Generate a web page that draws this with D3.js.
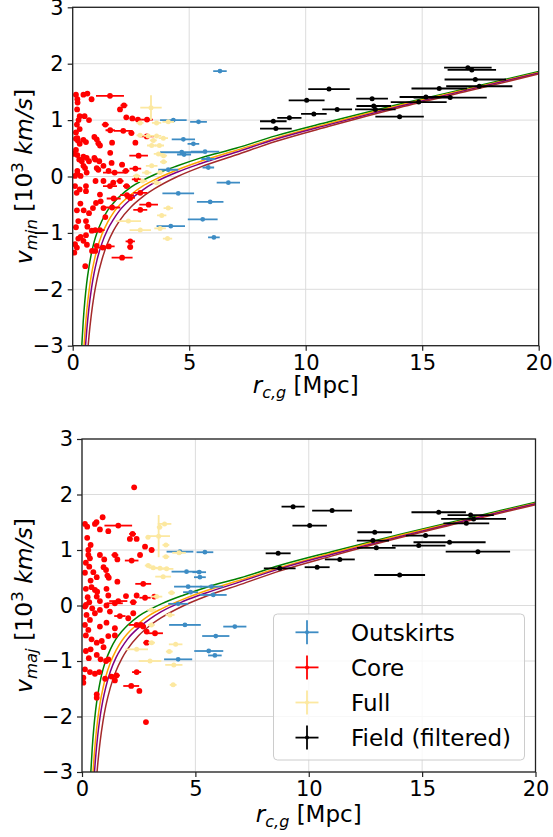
<!DOCTYPE html>
<html>
<head>
<meta charset="utf-8">
<script src="https://cdn.jsdelivr.net/npm/d3@7"></script>
<style>
  body { margin: 0; background: #fff; }
  text { font-family: "DejaVu Sans", sans-serif; fill: #000; }
</style>
</head>
<body>
<svg id="chart" width="553" height="837"></svg>
<script>
// ---- data (r in Mpc, v in 10^3 km/s, xerr, optional yerr) ----
const xTicks = [0, 5, 10, 15, 20];
const yTicks = [-3, -2, -1, 0, 1, 2, 3];
const legendNames = ['Outskirts', 'Core', 'Full', 'Field (filtered)'];
const seriesColors = ['#3d8cc4', '#ff0000', '#fce8a0', '#000000'];
const modelColors = ['green', 'orange', 'purple', 'brown'];

// model curves
const modelGreen = [[0.39,-3.0],[0.45,-2.58],[0.52,-2.21],[0.6,-1.89],[0.7,-1.6],[0.8,-1.37],[0.92,-1.16],[1.05,-0.99],[1.25,-0.79],[1.5,-0.6],[1.75,-0.47],[2.0,-0.36],[2.5,-0.19],[3.0,-0.07],[3.5,0.03],[4.5,0.19],[5.5,0.33],[7,0.5],[8.7,0.72],[11,0.97],[14,1.28],[17,1.57],[20,1.86]];
const modelOrange = [[0.487,-3.0],[0.52,-2.8],[0.6,-2.4],[0.7,-2.03],[0.8,-1.75],[0.92,-1.5],[1.05,-1.28],[1.25,-1.03],[1.5,-0.81],[1.75,-0.64],[2.0,-0.51],[2.5,-0.32],[3.0,-0.17],[3.5,-0.06],[4.5,0.12],[5.5,0.27],[7,0.46],[8.7,0.68],[11,0.94],[14,1.26],[17,1.55],[20,1.845]];
const modelPurple = [[0.55,-3.0],[0.6,-2.74],[0.7,-2.32],[0.8,-2.0],[0.92,-1.71],[1.05,-1.47],[1.25,-1.19],[1.5,-0.94],[1.75,-0.76],[2.0,-0.61],[2.5,-0.4],[3.0,-0.24],[3.5,-0.11],[4.5,0.08],[5.5,0.23],[7,0.43],[8.7,0.66],[11,0.92],[14,1.24],[17,1.54],[20,1.835]];
const modelBrown = [[0.663,-3.0],[0.7,-2.83],[0.8,-2.45],[0.92,-2.1],[1.05,-1.81],[1.25,-1.48],[1.5,-1.18],[1.75,-0.96],[2.0,-0.79],[2.5,-0.54],[3.0,-0.36],[3.5,-0.22],[4.5,0.0],[5.5,0.17],[7,0.38],[8.7,0.62],[11,0.89],[14,1.22],[17,1.52],[20,1.817]];

// top panel: v_min
const outskirtsMin = [[6.32,1.87,0.29],[4.32,1.00,0.57],[5.40,0.97,0.36],[4.75,0.66,0.50],[5.18,0.58,0.25],[4.68,0.43,0.93],[4.78,0.39,0.3],[5.68,0.44,0.61],[5.82,0.31,0.3],[5.82,0.16,0.25],[4.10,0.12,0.43],[6.68,-0.11,0.5],[4.53,-0.30,0.68],[5.90,-0.45,0.57],[5.58,-0.76,0.64],[4.21,-0.88,0.61],[6.06,-1.08,0.25]];
const coreMin = [[0.14,1.45,0.05],[0.20,1.37,0.05],[0.46,1.45,0.06],[0.63,1.47,0.07],[0.81,1.37,0.06],[1.60,1.43,0.60],
[0.21,1.31,0.05],[0.19,1.19,0.05],[0.30,1.07,0.05],[0.51,1.07,0.06],[0.25,1.00,0.05],[0.70,1.00,0.06],
[0.18,0.92,0.05],[0.14,0.78,0.05],[0.30,0.84,0.05],[0.14,0.67,0.05],[0.22,0.64,0.05],[0.30,0.58,0.05],
[0.57,0.61,0.06],[0.93,0.70,0.07],[1.03,0.66,0.07],[1.10,0.59,0.07],[1.17,0.55,0.07],[1.69,0.60,0.08],
[1.40,0.92,0.15],[1.61,0.82,0.2],[2.03,1.19,0.10],[2.20,1.26,0.15],[2.30,1.05,0.10],[2.56,1.03,0.12],
[2.80,1.01,0.15],[3.19,1.01,0.25],[2.17,0.81,0.40],[2.52,0.77,0.12],[2.69,0.60,0.10],[2.83,0.37,0.40],
[3.18,0.71,0.30],[0.14,0.47,0.05],[0.20,0.38,0.05],[0.28,0.30,0.05],[0.46,0.35,0.05],[0.60,0.33,0.06],
[0.70,0.27,0.06],[0.93,0.33,0.07],[1.14,0.27,0.08],[1.61,0.42,0.08],[0.46,0.19,0.05],[0.20,0.10,0.05],
[0.34,0.01,0.05],[0.60,0.07,0.06],[1.03,0.15,0.07],[1.32,0.19,0.08],[1.67,0.24,0.10],[1.80,0.07,0.50],
[2.12,0.21,0.12],[2.28,0.10,0.15],[2.69,0.14,0.25],[0.10,0.01,0.05],[0.98,-0.08,0.07],[1.32,-0.08,0.1],
[1.74,-0.11,0.1],[2.03,-0.08,0.15],[2.31,-0.17,0.15],[2.74,-0.05,0.2],[0.10,-0.17,0.05],[0.30,-0.23,0.05],
[0.57,-0.17,0.06],[0.17,-0.29,0.05],[0.57,-0.26,0.06],[1.17,-0.32,0.08],[1.60,-0.17,0.3],[2.33,-0.33,0.3],
[2.47,-0.38,0.2],[2.90,-0.29,0.3],[3.26,-0.50,0.4],[2.90,-0.59,0.3],[1.76,-0.39,0.3],[1.69,-0.55,0.35],
[0.33,-0.48,0.05],[0.18,-0.60,0.05],[0.47,-0.60,0.05],[0.70,-0.65,0.06],[0.87,-0.56,0.06],[1.00,-0.47,0.07],
[1.20,-0.44,0.08],[1.32,-0.56,0.08],[1.40,-0.72,0.1],[0.24,-0.79,0.05],[0.57,-0.79,0.06],[0.14,-0.90,0.05],
[0.63,-0.89,0.06],[0.82,-0.96,0.06],[0.57,-1.04,0.06],[0.34,-1.07,0.05],[0.97,-0.95,0.07],[1.17,-0.95,0.2],
[0.10,-1.20,0.05],[0.24,-1.10,0.05],[0.46,-1.14,0.05],[0.61,-1.21,0.06],[1.03,-1.23,0.08],[0.97,-1.32,0.08],
[1.55,-1.24,0.25],[1.29,-1.26,0.2],[2.47,-1.15,0.2],[2.47,-1.25,0.12],[2.12,-1.44,0.45],[0.07,-1.35,0.05],
[0.54,-1.59,0.06],[0.18,-1.26,0.05],[0.83,-1.32,0.06],[0.04,0.40,0.05],[0.39,0.27,0.05],[0.53,0.15,0.05],
[0.97,0.30,0.07],[1.54,0.10,0.08],[1.10,0.12,0.07],[0.20,0.05,0.05],[0.20,0.68,0.05],[0.46,0.65,0.05]];
const fullMin = [[3.36,1.22,0.46,0.22],[2.89,0.95,0.15],[3.60,0.95,0.2],[4.10,0.97,0.25],[2.89,0.73,0.15],[3.24,0.72,0.2],[3.60,0.72,0.2],[3.89,0.68,0.2],[3.46,0.64,0.15],[3.39,0.55,0.2],[3.72,0.55,0.2],[3.68,0.40,0.2],[3.90,0.37,0.15],[3.90,0.26,0.15],[3.39,0.19,0.25],[3.18,0.07,0.2],[3.75,0.07,0.15],[2.74,0.01,0.15],[3.00,-0.08,0.2],[3.60,-0.11,0.2],[4.10,-0.56,0.2],[3.82,-0.69,0.2],[2.39,-0.79,0.54],[2.90,-0.95,0.46],[3.75,-0.92,0.25],[4.07,-1.10,0.2]];
const fieldMin = [[8.61,0.98,0.57],[8.72,0.85,0.68],[9.30,1.04,0.52],[10.04,1.35,0.77],[10.35,1.11,0.55],[11.00,1.55,0.89],[11.35,1.19,0.64],[12.85,1.38,0.68],[12.92,1.25,0.74],[12.99,1.19,0.87],[14.03,1.06,1.04],[14.85,1.32,1.2],[15.16,1.41,1.13],[15.73,1.56,1.19],[16.20,1.40,1.57],[16.96,1.93,1.02],[17.13,1.89,1.04],[17.28,1.72,1.32],[17.45,1.60,1.42]];

// bottom panel: v_maj
const outskirtsMaj = [[4.32,0.97,0.59],[5.42,0.96,0.37],[4.61,0.61,0.66],[5.17,0.60,0.3],[5.20,0.51,0.26],[4.68,0.34,0.62],[5.71,0.34,0.51],[4.79,0.24,0.33],[5.79,0.19,0.59],[4.24,0.03,0.44],[4.54,-0.35,0.7],[6.74,-0.38,0.51],[5.90,-0.55,0.6],[5.59,-0.82,0.64],[5.86,-0.90,0.3],[4.24,-0.97,0.62]];
const coreMaj = [[2.30,2.13,0.05],[0.91,1.59,0.05],[0.13,1.47,0.05],[0.23,1.42,0.05],[0.57,1.47,0.06],[0.64,1.50,0.06],
[0.79,1.37,0.06],[1.16,1.34,0.07],[1.60,1.44,0.61],[2.23,1.29,0.15],[2.11,1.20,0.12],[2.41,1.20,0.08],
[0.23,1.22,0.05],[0.38,1.09,0.05],[0.28,1.00,0.05],[0.28,0.91,0.05],[0.17,0.77,0.05],[0.32,0.70,0.05],
[0.13,0.59,0.05],[0.79,0.91,0.06],[0.98,0.83,0.07],[1.45,0.91,0.15],[1.56,0.83,0.1],[2.19,0.81,0.3],
[2.56,0.91,0.1],[2.78,1.06,0.1],[3.07,1.00,0.12],[0.95,0.69,0.06],[1.06,0.64,0.07],[1.12,0.54,0.07],
[1.18,0.50,0.07],[0.65,0.51,0.06],[0.38,0.45,0.05],[1.56,0.43,0.08],[2.70,0.39,0.35],[0.17,0.30,0.05],
[0.42,0.33,0.05],[0.57,0.28,0.06],[0.67,0.25,0.06],[1.08,0.30,0.07],[1.16,0.18,0.07],[0.65,0.16,0.06],
[0.17,0.01,0.05],[0.32,0.06,0.05],[0.79,0.08,0.06],[1.60,0.08,0.4],[1.94,0.17,0.1],[2.26,0.06,0.15],
[2.41,0.18,0.1],[2.78,0.14,0.25],[3.19,0.16,0.1],[0.13,-0.02,0.05],[0.20,-0.17,0.05],[0.35,-0.26,0.05],
[0.57,-0.14,0.06],[0.79,-0.08,0.06],[1.08,0.00,0.07],[1.45,0.04,0.35],[1.23,-0.11,0.07],[1.67,-0.19,0.25],
[2.04,-0.23,0.1],[2.26,-0.14,0.1],[2.41,-0.35,0.35],[2.60,-0.35,0.15],[2.70,-0.38,0.1],[2.85,-0.47,0.1],
[3.22,-0.50,0.35],[0.13,-0.35,0.05],[0.28,-0.44,0.05],[0.79,-0.38,0.06],[1.08,-0.31,0.07],[1.45,-0.41,0.1],
[0.17,-0.54,0.05],[0.42,-0.61,0.05],[0.65,-0.67,0.06],[0.87,-0.64,0.06],[1.16,-0.55,0.07],[1.45,-0.54,0.1],
[0.17,-0.82,0.05],[0.38,-0.79,0.05],[0.65,-0.89,0.06],[0.82,-0.97,0.06],[1.06,-1.00,0.07],[1.16,-0.97,0.07],
[2.85,-0.67,0.15],[0.13,-1.15,0.05],[0.35,-1.20,0.05],[0.57,-1.23,0.06],[0.76,-1.20,0.06],[1.02,-1.32,0.08],
[1.30,-1.28,0.1],[1.52,-1.26,0.15],[1.45,-1.35,0.1],[2.41,-1.20,0.2],[2.17,-1.45,0.35],[2.53,-1.54,0.1],
[0.06,-1.30,0.05],[0.06,-1.39,0.05],[0.65,-1.60,0.06],[0.65,-1.66,0.06],[2.82,-2.10,0.1],
[0.35,0.85,0.05],[0.50,0.60,0.05],[0.25,0.15,0.05],[0.45,-0.05,0.05],[0.95,-0.75,0.06],[0.30,-0.95,0.05]];
const fullMaj = [[3.38,1.25,0.5,0.38],[3.42,1.41,0.12],[3.64,1.47,0.3],[2.91,1.23,0.1],[3.70,1.09,0.15],[3.70,0.88,0.15],[4.28,0.95,0.3],[2.92,0.72,0.15],[3.14,0.68,0.2],[3.44,0.67,0.4],[3.73,0.66,0.3],[3.58,0.52,0.35],[3.29,0.16,0.25],[3.95,0.23,0.15],[3.07,-0.08,0.2],[3.88,-0.17,0.2],[3.06,-0.35,0.15],[3.07,-0.67,0.15],[4.13,-0.70,0.3],[2.41,-0.79,0.5],[3.85,-0.83,0.15],[3.00,-1.00,0.5],[4.05,-1.07,0.38],[4.02,-1.43,0.15]];
const fieldMaj = [[8.72,0.67,0.7],[8.65,0.94,0.55],[9.31,1.78,0.51],[10.04,1.44,0.76],[10.37,0.69,0.55],[11.03,1.71,0.88],[11.37,0.83,0.66],[12.91,1.32,0.76],[12.83,1.17,0.71],[12.98,1.04,0.85],[14.01,0.55,1.12],[14.85,1.08,1.18],[15.15,1.26,0.87],[15.73,1.68,1.2],[16.21,1.14,1.59],[17.14,1.63,1.02],[17.27,1.56,1.43],[16.95,1.48,1.01],[17.46,0.97,1.42]];

// ---- layout ----
const panels = [
  { l: 72.7, r: 538.7, t: 7.3, b: 345.7, xlab: 47, sub: 'min', sets: [outskirtsMin, coreMin, fullMin, fieldMin], legend: false },
  { l: 82, r: 535.5, t: 439, b: 772, xlab: 50, sub: 'maj', sets: [outskirtsMaj, coreMaj, fullMaj, fieldMaj], legend: true }
];
const models = [modelGreen, modelOrange, modelPurple, modelBrown];
const markerSize = [2.4, 2.9, 2.5, 2.5];

const svg = d3.select('#chart');
const defs = svg.append('defs');

panels.forEach(function(p, i) {
  const x = d3.scaleLinear().domain([0, 20]).range([p.l, p.r]);
  const y = d3.scaleLinear().domain([-3, 3]).range([p.b, p.t]);
  const g = svg.append('g');

  defs.append('clipPath').attr('id', 'clip' + i)
    .append('rect').attr('x', p.l).attr('y', p.t).attr('width', p.r - p.l).attr('height', p.b - p.t);

  // grid
  g.selectAll('.gx').data(xTicks).enter().append('line')
    .attr('x1', d => x(d)).attr('x2', d => x(d)).attr('y1', p.t).attr('y2', p.b)
    .attr('stroke', '#dcdcdc').attr('stroke-width', 1);
  g.selectAll('.gy').data(yTicks).enter().append('line')
    .attr('y1', d => y(d)).attr('y2', d => y(d)).attr('x1', p.l).attr('x2', p.r)
    .attr('stroke', '#dcdcdc').attr('stroke-width', 1);

  const plot = g.append('g').attr('clip-path', 'url(#clip' + i + ')');

  // model curves
  const line = d3.line().x(d => x(d[0])).y(d => y(d[1])).curve(d3.curveMonotoneX);
  models.forEach(function(m, k) {
    plot.append('path').datum(m).attr('d', line)
      .attr('fill', 'none').attr('stroke', modelColors[k]).attr('stroke-width', 1.5);
  });

  // error bar series
  p.sets.forEach(function(data, k) {
    const c = seriesColors[k];
    const s = plot.append('g');
    s.selectAll('.ex').data(data).enter().append('line')
      .attr('x1', d => x(d[0] - d[2])).attr('x2', d => x(d[0] + d[2]))
      .attr('y1', d => y(d[1])).attr('y2', d => y(d[1]))
      .attr('stroke', c).attr('stroke-width', 1.8);
    s.selectAll('.ey').data(data.filter(d => d.length > 3)).enter().append('line')
      .attr('x1', d => x(d[0])).attr('x2', d => x(d[0]))
      .attr('y1', d => y(d[1] - d[3])).attr('y2', d => y(d[1] + d[3]))
      .attr('stroke', c).attr('stroke-width', 1.8);
    s.selectAll('circle').data(data).enter().append('circle')
      .attr('cx', d => x(d[0])).attr('cy', d => y(d[1])).attr('r', markerSize[k])
      .attr('fill', c);
  });

  // frame
  g.append('rect').attr('x', p.l).attr('y', p.t).attr('width', p.r - p.l).attr('height', p.b - p.t)
    .attr('fill', 'none').attr('stroke', '#222').attr('stroke-width', 1.3);

  // axes
  const ax = g.append('g').attr('transform', 'translate(0,' + p.b + ')')
    .call(d3.axisBottom(x).tickValues(xTicks).tickSize(5).tickSizeOuter(0).tickPadding(4).tickFormat(d3.format('d')));
  const ay = g.append('g').attr('transform', 'translate(' + p.l + ',0)')
    .call(d3.axisLeft(y).tickValues(yTicks).tickSize(5).tickSizeOuter(0).tickPadding(4).tickFormat(d => d < 0 ? '\u2212' + (-d) : '' + d));
  [ax, ay].forEach(function(a) {
    a.select('.domain').remove();
    a.selectAll('line').attr('stroke', '#222').attr('stroke-width', 1.2);
    a.selectAll('text').attr('font-size', 21).attr('font-family', '"DejaVu Sans"').attr('fill', '#000');
  });

  // x label
  const xl = g.append('text').attr('x', (p.l + p.r) / 2).attr('y', p.b + p.xlab)
    .attr('text-anchor', 'middle').attr('font-size', 23);
  xl.append('tspan').attr('font-style', 'italic').text('r');
  xl.append('tspan').attr('font-style', 'italic').attr('font-size', 16).attr('dy', 5).text('c,g');
  xl.append('tspan').attr('dy', -5).text(' [Mpc]');

  // y label
  const yl = g.append('text')
    .attr('transform', 'translate(32,' + ((p.t + p.b) / 2) + ') rotate(-90)')
    .attr('text-anchor', 'middle').attr('font-size', 23.5);
  yl.append('tspan').attr('font-style', 'italic').text('v');
  yl.append('tspan').attr('font-style', 'italic').attr('font-size', 16.5).attr('dy', 5).text(p.sub);
  yl.append('tspan').attr('dy', -5).text(' [10');
  yl.append('tspan').attr('font-size', 16.5).attr('dy', -9).text('3');
  yl.append('tspan').attr('dy', 9).text(' ');
  yl.append('tspan').attr('font-style', 'italic').text('km/s');
  yl.append('tspan').text(']');

  if (p.legend) {
    const lg = g.append('g');
    lg.append('rect').attr('x', 273.5).attr('y', 614).attr('width', 251).attr('height', 146)
      .attr('rx', 4).attr('fill', '#fff').attr('fill-opacity', 0.8)
      .attr('stroke', '#cccccc').attr('stroke-width', 1);
    const items = lg.selectAll('.item').data(legendNames).enter().append('g')
      .attr('transform', (d, j) => 'translate(307,' + (632.3 + j * 35.1) + ')');
    items.append('line').attr('x1', -11.5).attr('x2', 11.5).attr('y1', 0).attr('y2', 0)
      .attr('stroke', (d, j) => seriesColors[j]).attr('stroke-width', 1.8);
    items.append('line').attr('x1', 0).attr('x2', 0).attr('y1', -12).attr('y2', 12)
      .attr('stroke', (d, j) => seriesColors[j]).attr('stroke-width', 1.8);
    items.append('circle').attr('r', 2).attr('fill', (d, j) => seriesColors[j]);
    items.append('text').attr('x', 44).attr('dy', '0.36em').attr('font-size', 23).text(d => d);
  }
});
</script>
</body>
</html>
